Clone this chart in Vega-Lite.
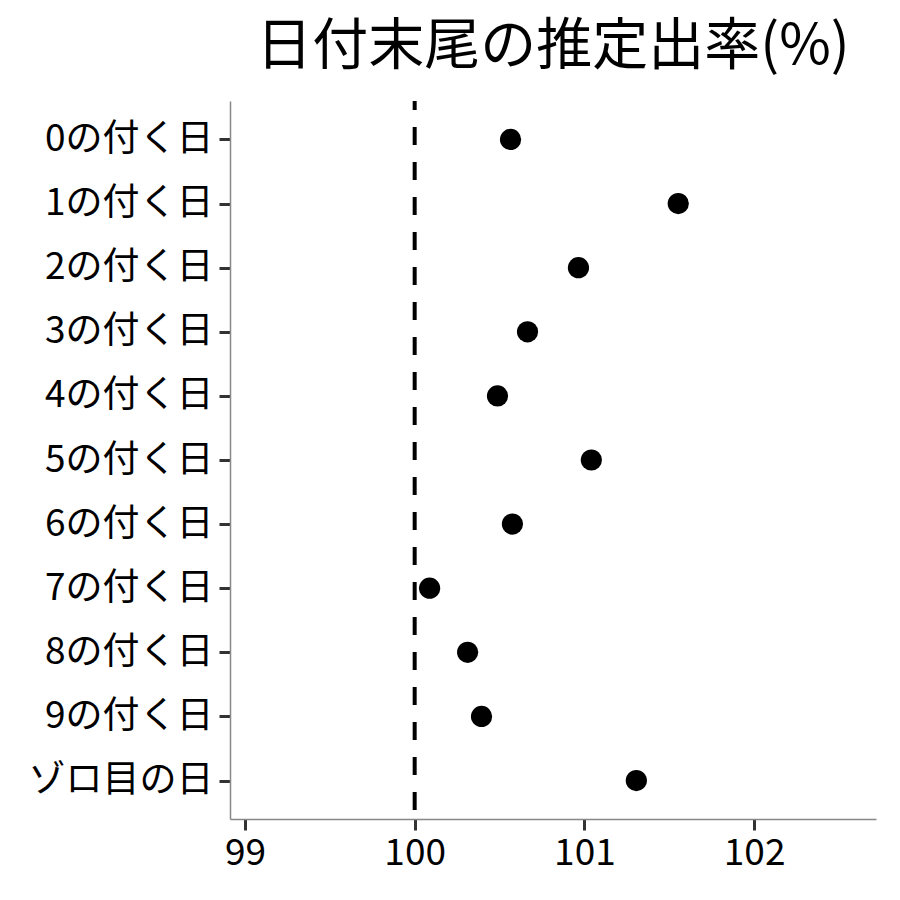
{
  "$schema": "https://vega.github.io/schema/vega-lite/v6.json",
  "autosize": "none",
  "padding": {"left": 230, "top": 101, "right": 24, "bottom": 81},
  "width": 646,
  "height": 718,
  "background": "white",
  "config": {
    "view": {"stroke": null},
    "font": "Noto Sans CJK JP"
  },
  "title": {
    "text": "日付末尾の推定出率(%)",
    "fontSize": 56,
    "font": "Noto Sans CJK JP",
    "fontWeight": "normal",
    "color": "black",
    "anchor": "middle",
    "offset": 23
  },
  "data": {
    "values": [
      {"day": "0の付く日", "rate": 100.565},
      {"day": "1の付く日", "rate": 101.553},
      {"day": "2の付く日", "rate": 100.965},
      {"day": "3の付く日", "rate": 100.665},
      {"day": "4の付く日", "rate": 100.488},
      {"day": "5の付く日", "rate": 101.041},
      {"day": "6の付く日", "rate": 100.576},
      {"day": "7の付く日", "rate": 100.088},
      {"day": "8の付く日", "rate": 100.312},
      {"day": "9の付く日", "rate": 100.394},
      {"day": "ゾロ目の日", "rate": 101.306}
    ]
  },
  "layer": [
    {
      "data": {"values": [{"ref": 100}]},
      "mark": {"type": "rule", "color": "black", "strokeWidth": 4, "strokeDash": [18, 17], "strokeDashOffset": 9},
      "encoding": {
        "x": {"field": "ref", "type": "quantitative", "scale": {"domain": [98.912, 102.718], "nice": false, "zero": false}}
      }
    },
    {
      "mark": {"type": "circle", "size": 450, "color": "black", "opacity": 1},
      "encoding": {
        "x": {
          "field": "rate",
          "type": "quantitative",
          "scale": {"domain": [98.912, 102.718], "nice": false, "zero": false},
          "axis": {
            "title": null,
            "values": [99, 100, 101, 102],
            "format": "d",
            "grid": false,
            "domainColor": "#888888",
            "domainWidth": 1.5,
            "tickColor": "#333333",
            "tickWidth": 3,
            "tickSize": 11,
            "labelFontSize": 37,
            "labelColor": "black",
            "labelPadding": 5,
            "labelFont": "Noto Sans CJK JP"
          }
        },
        "y": {
          "field": "day",
          "type": "ordinal",
          "sort": ["0の付く日", "1の付く日", "2の付く日", "3の付く日", "4の付く日", "5の付く日", "6の付く日", "7の付く日", "8の付く日", "9の付く日", "ゾロ目の日"],
          "scale": {"type": "point", "padding": 0.6},
          "axis": {
            "title": null,
            "grid": false,
            "domainColor": "#888888",
            "domainWidth": 1.5,
            "tickColor": "#333333",
            "tickWidth": 3,
            "tickSize": 11,
            "labelFontSize": 37,
            "labelLimit": 0,
            "labelColor": "black",
            "labelPadding": 6,
            "labelFont": "Noto Sans CJK JP"
          }
        }
      }
    }
  ]
}
